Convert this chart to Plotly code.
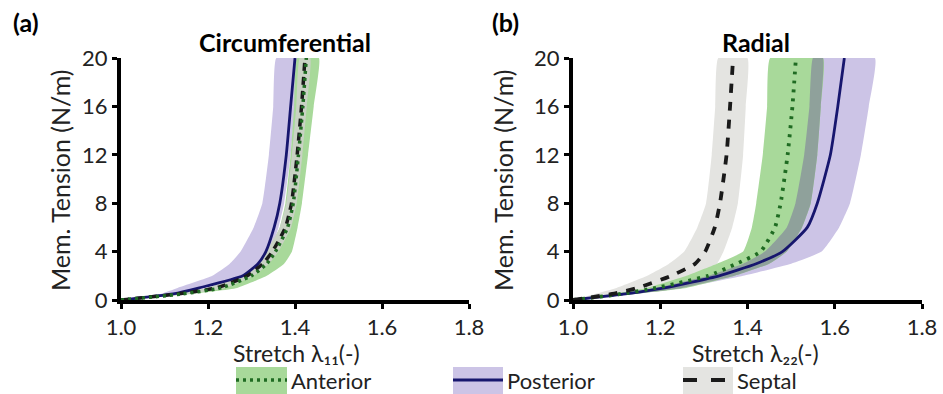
import numpy as np
import plotly.graph_objects as go

# Membrane tension levels (N/m) at which stretches are tabulated
tension = [0, 0.5, 1, 2, 3, 4, 6, 8, 12, 16, 20]

# Circumferential stretch lambda_11: mean and band (lo/hi) per leaflet
ant_c_mean = [1.0, 1.14, 1.23, 1.30, 1.335, 1.355, 1.383, 1.396, 1.408, 1.418, 1.426]
ant_c_lo = [1.0, 1.12, 1.20, 1.28, 1.315, 1.337, 1.365, 1.378, 1.390, 1.398, 1.405]
ant_c_hi = [1.0, 1.16, 1.267, 1.335, 1.375, 1.393, 1.406, 1.416, 1.430, 1.443, 1.455]
post_c_mean = [1.0, 1.12, 1.18, 1.28, 1.315, 1.333, 1.352, 1.365, 1.380, 1.390, 1.400]
post_c_lo = [1.0, 1.09, 1.13, 1.21, 1.25, 1.275, 1.305, 1.325, 1.340, 1.350, 1.357]
post_c_hi = [1.0, 1.13, 1.19, 1.29, 1.325, 1.343, 1.362, 1.375, 1.390, 1.400, 1.410]
sep_c_mean = [1.0, 1.13, 1.22, 1.29, 1.326, 1.348, 1.378, 1.392, 1.405, 1.415, 1.423]
sep_c_lo = [1.0, 1.11, 1.20, 1.275, 1.312, 1.334, 1.365, 1.380, 1.393, 1.403, 1.411]
sep_c_hi = [1.0, 1.15, 1.24, 1.305, 1.34, 1.362, 1.391, 1.404, 1.417, 1.427, 1.435]

# Radial stretch lambda_22: mean and band (lo/hi) per leaflet
ant_r_mean = [1.0, 1.11, 1.19, 1.31, 1.375, 1.43, 1.463, 1.476, 1.492, 1.503, 1.511]
ant_r_lo = [1.0, 1.09, 1.17, 1.26, 1.33, 1.39, 1.41, 1.42, 1.435, 1.445, 1.452]
ant_r_hi = [1.0, 1.14, 1.26, 1.37, 1.45, 1.49, 1.525, 1.545, 1.56, 1.568, 1.573]
post_r_mean = [1.0, 1.12, 1.21, 1.335, 1.42, 1.48, 1.537, 1.56, 1.59, 1.607, 1.622]
post_r_lo = [1.0, 1.10, 1.19, 1.31, 1.39, 1.44, 1.49, 1.51, 1.53, 1.542, 1.55]
post_r_hi = [1.0, 1.14, 1.25, 1.39, 1.50, 1.57, 1.61, 1.635, 1.66, 1.678, 1.692]
sep_r_mean = [1.0, 1.09, 1.148, 1.225, 1.28, 1.303, 1.325, 1.337, 1.352, 1.360, 1.367]
sep_r_lo = [1.0, 1.05, 1.10, 1.17, 1.22, 1.255, 1.285, 1.305, 1.318, 1.326, 1.333]
sep_r_hi = [1.0, 1.12, 1.21, 1.29, 1.33, 1.345, 1.365, 1.378, 1.39, 1.396, 1.40]

x_ticks = [1.0, 1.2, 1.4, 1.6, 1.8]
y_ticks = [0, 4, 8, 12, 16, 20]
legend_names = ["Anterior", "Posterior", "Septal"]

FONT = "Lato"
TXT = "#222222"
GREEN_BAND = "#a8d99a"
PURPLE_BAND = "#ccc4e6"
GRAY_BAND = "#e4e4e1"
OVERLAP = "#8fa19b"
GREEN_LINE = "#1f6b22"
NAVY_LINE = "#17166e"
BLACK_LINE = "#1a1a1a"

fig = go.Figure()


def band(lo, hi, color, xa, ya):
    xs = list(lo) + list(hi)[::-1]
    ys = list(tension) + list(tension)[::-1]
    fig.add_trace(go.Scatter(x=xs, y=ys, fill="toself", fillcolor=color,
                             line=dict(width=0, shape="spline", smoothing=0.4),
                             mode="lines", hoverinfo="skip",
                             showlegend=False, xaxis=xa, yaxis=ya))


def overlap(lo_a, hi_a, lo_b, hi_b, color, xa, ya):
    lo = np.maximum(lo_a, lo_b)
    hi = np.minimum(hi_a, hi_b)
    hi = np.where(hi > lo, hi, lo)
    band(lo, hi, color, xa, ya)


def curve(x, color, dash, width, xa, ya):
    fig.add_trace(go.Scatter(x=x, y=tension, mode="lines",
                             line=dict(color=color, dash=dash, width=width, shape="spline", smoothing=0.5),
                             hoverinfo="skip", showlegend=False, xaxis=xa, yaxis=ya))


# (a) circumferential
band(post_c_lo, post_c_hi, PURPLE_BAND, "x", "y")
band(ant_c_lo, ant_c_hi, GREEN_BAND, "x", "y")
band(sep_c_lo, sep_c_hi, "#c9d2c4", "x", "y")
curve(post_c_mean, NAVY_LINE, "solid", 2.8, "x", "y")
curve(sep_c_mean, BLACK_LINE, "8px,6px", 3.5, "x", "y")
curve(ant_c_mean, GREEN_LINE, "3px,4px", 3.5, "x", "y")

# (b) radial
band(sep_r_lo, sep_r_hi, GRAY_BAND, "x2", "y2")
band(post_r_lo, post_r_hi, PURPLE_BAND, "x2", "y2")
band(ant_r_lo, ant_r_hi, GREEN_BAND, "x2", "y2")
overlap(np.array(ant_r_lo), np.array(ant_r_hi), np.array(post_r_lo), np.array(post_r_hi), OVERLAP, "x2", "y2")
curve(post_r_mean, NAVY_LINE, "solid", 2.8, "x2", "y2")
curve(ant_r_mean, GREEN_LINE, "3px,6px", 3.8, "x2", "y2")
curve(sep_r_mean, BLACK_LINE, "9px,9px", 3.8, "x2", "y2")

W, H = 943, 394


def px_x(p):
    return p / W


def px_y(p):
    return 1 - p / H


axis_common = dict(showline=True, linecolor="black", linewidth=4, mirror=False,
                   ticks="outside", ticklen=5, tickwidth=3, tickcolor="black",
                   showgrid=False, zeroline=False, automargin=False,
                   tickfont=dict(family=FONT, size=22, color=TXT))

fig.update_layout(
    template="none",
    width=W, height=H, margin=dict(l=0, r=0, t=0, b=0, pad=0, autoexpand=False),
    paper_bgcolor="white", plot_bgcolor="white", showlegend=False,
    xaxis=dict(domain=[px_x(121), px_x(469)], range=[1.0, 1.8], tickvals=x_ticks,
               ticktext=[f"{v:.1f}" for v in x_ticks], anchor="y", **axis_common),
    yaxis=dict(domain=[px_y(300), px_y(58)], range=[0, 20], tickvals=y_ticks,
               anchor="x", **axis_common),
    xaxis2=dict(domain=[px_x(573), px_x(922)], range=[1.0, 1.8], tickvals=x_ticks,
                ticktext=[f"{v:.1f}" for v in x_ticks], anchor="y2", **axis_common),
    yaxis2=dict(domain=[px_y(300), px_y(58)], range=[0, 20], tickvals=y_ticks,
                anchor="x2", **axis_common),
)

ann = []


def text(x, y, s, size, bold=False, angle=0, xanchor="center"):
    ann.append(dict(x=px_x(x), y=px_y(y), xref="paper", yref="paper", text=s,
                    showarrow=False, textangle=angle, xanchor=xanchor, yanchor="middle",
                    font=dict(family=FONT, size=size, color="black" if bold else TXT)))


text(26, 22, "<b>(a)</b>", 25, bold=True)
text(505, 22, "<b>(b)</b>", 25, bold=True)
text(285, 42, "<b>Circumferential</b>", 25, bold=True)
text(756, 42, "<b>Radial</b>", 25, bold=True)
text(60, 180, "Mem. Tension (N/m)", 25, angle=-90)
text(503, 180, "Mem. Tension (N/m)", 25, angle=-90)
text(296, 353, "Stretch λ₁₁(-)", 23)
text(755, 353, "Stretch λ₂₂(-)", 23)

# Legend: colored swatch with the line style drawn across it
legend_items = [
    (236, 287, GREEN_BAND, GREEN_LINE, "3px,4px", 3.5),
    (453, 503, PURPLE_BAND, NAVY_LINE, "solid", 3.0),
    (683, 733, GRAY_BAND, BLACK_LINE, "14px,14px", 4.0),
]
shapes = []
for (x0, x1, fillc, linec, dash, lw), name in zip(legend_items, legend_names):
    shapes.append(dict(type="rect", xref="paper", yref="paper",
                       x0=px_x(x0), x1=px_x(x1), y0=px_y(394), y1=px_y(367),
                       fillcolor=fillc, line=dict(width=0), layer="below"))
    shapes.append(dict(type="line", xref="paper", yref="paper",
                       x0=px_x(x0), x1=px_x(x1), y0=px_y(380), y1=px_y(380),
                       line=dict(color=linec, width=lw, dash=dash)))
    text(x1 + 2, 380, name, 22, xanchor="left")

fig.update_layout(annotations=ann, shapes=shapes)
fig.write_html("out.html")
